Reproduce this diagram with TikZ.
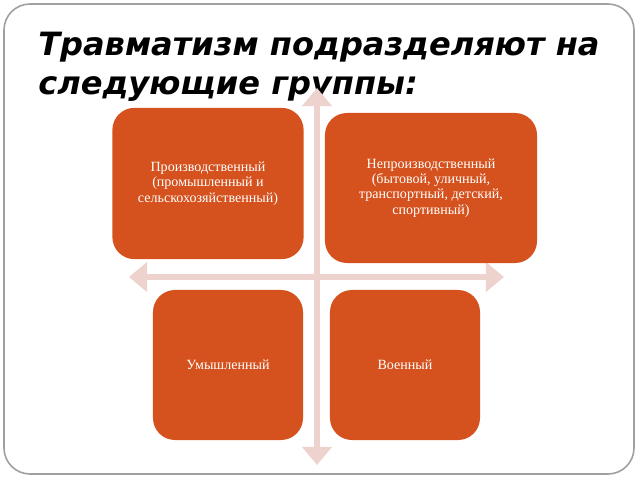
\documentclass[tikz,border=0pt]{standalone}
\usepackage{fontspec}
\setmainfont{Liberation Serif}
\newfontfamily\titlefont{DejaVu Sans}
\usetikzlibrary{arrows.meta,positioning}

\definecolor{boxfill}{RGB}{213,81,29}
\definecolor{axisfill}{RGB}{238,210,206}
\definecolor{framegray}{RGB}{160,160,160}

\begin{document}
\begin{tikzpicture}[x=0.025cm, y=-0.025cm,
    group/.style={rectangle, fill=boxfill, rounded corners=0.55cm, text=white, align=center,
                  font=\fontsize{10}{10.9}\selectfont, inner sep=0pt},
    axis/.style={draw=axisfill, line width=0.15cm,
                 {Triangle[width=0.72cm, length=0.45cm]}-{Triangle[width=0.72cm, length=0.45cm]}},
    heading/.style={anchor=base west, inner sep=0pt,
                    font=\titlefont\bfseries\itshape\fontsize{22.8}{26}\selectfont}]
    \useasboundingbox (0,0) rectangle (640,480);
    \draw[framegray, line width=0.04cm, rounded corners=0.65cm] (4,4) rectangle (634,474);

    \node[heading] (title1) at (38,55) {Травматизм подразделяют на};
    \node[heading] (title2) at (38,95) {следующие группы:};

    % axes behind the boxes
    \coordinate (top) at (317,88);
    \coordinate (bottom) at (317,465);
    \coordinate (left) at (129,277);
    \coordinate (right) at (504,277);
    \draw[axis] (top) -- (bottom);
    \draw[axis] (left) -- (right);

    \node[group, minimum width=4.78cm, minimum height=3.78cm] (work) at (208,183.5)
        {Производственный\\(промышленный и\\сельскохозяйственный)};
    \node[group, minimum width=5.3cm, minimum height=3.75cm] (nonwork) at (431,188)
        {Непроизводственный\\(бытовой, уличный,\\транспортный, детский,\\спортивный)};
    \node[group, minimum width=3.75cm, minimum height=3.75cm] (intent) at (228,365) {Умышленный};
    \node[group, minimum width=3.75cm, minimum height=3.75cm] (war) at (405,365) {Военный};
\end{tikzpicture}
\end{document}
